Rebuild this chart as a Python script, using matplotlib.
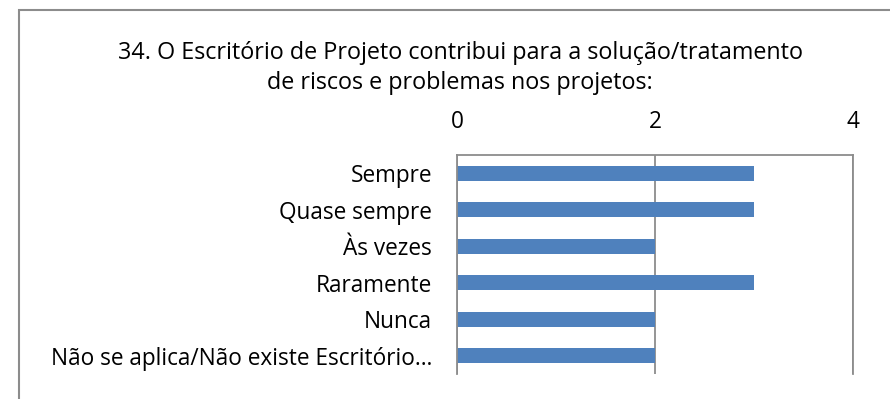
import matplotlib.pyplot as plt
from matplotlib.patches import Rectangle

plt.rcParams['font.family'] = ['Open Sans', 'DejaVu Sans']

categorias = ['Sempre', 'Quase sempre', 'Às vezes', 'Raramente', 'Nunca',
              'Não se aplica/Não existe Escritório…']
respostas = [3, 3, 2, 3, 2, 2]
ticks_x = [0, 2, 4]

titulo = ('34. O Escritório de Projeto contribui para a solução/tratamento\n'
          'de riscos e problemas nos projetos:')

W, H = 890, 399
fig = plt.figure(figsize=(W / 100, H / 100), dpi=100)

# moldura do gráfico (cortada embaixo)
fig.patches.append(Rectangle((19 / W, -0.1), 2, 1.1 - 10 / H,
                             transform=fig.transFigure, fill=False,
                             edgecolor='#8c8c8c', linewidth=1.5))

ax = fig.add_axes([457 / W, 1 - 374 / H, (853 - 457) / W, (374 - 155) / H])
y = list(range(len(categorias)))
ax.barh(y, respostas, height=0.4, color='#4f81bd', zorder=2)
ax.set_ylim(len(categorias) - 0.5, -0.5)
ax.set_xlim(0, 4)
ax.set_xticks(ticks_x)
ax.xaxis.tick_top()
ax.tick_params(axis='x', length=0, pad=15, labelsize=16.3)
ax.set_yticks(y)
ax.set_yticklabels(categorias, fontsize=16.3)
ax.tick_params(axis='y', length=0, pad=18)
ax.grid(axis='x', color='#8c8c8c', linewidth=1.3, zorder=1)
for s in ['top', 'left', 'right']:
    ax.spines[s].set_color('#8c8c8c')
    ax.spines[s].set_linewidth(1.3)
ax.spines['bottom'].set_visible(False)

fig.text(460 / W, 1 - 68 / H, titulo, ha='center', va='center',
         fontsize=16.8, linespacing=1.3)

fig.savefig('out.png', dpi=100)
